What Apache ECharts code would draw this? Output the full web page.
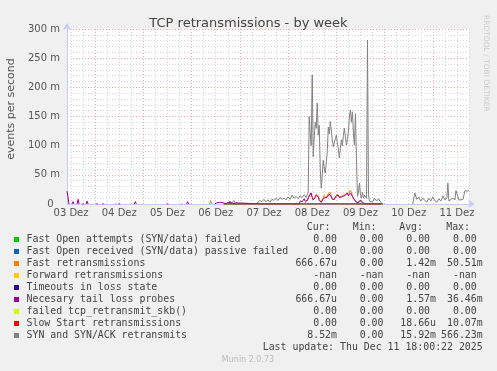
<!DOCTYPE html>
<html>
<head>
<meta charset="utf-8">
<script src="https://cdn.jsdelivr.net/npm/echarts@6/dist/echarts.min.js"></script>
<style>
html,body{margin:0;padding:0;background:#f0f0f0;}
#chart{width:497px;height:371px;}
</style>
</head>
<body>
<div id="chart"></div>
<script>
// ---- axis labels ----
const dayLabels = ['03 Dez','04 Dez','05 Dez','06 Dez','07 Dez','08 Dez','09 Dez','10 Dez','11 Dez'];
const yAxisTitle = 'events per second';
// hours are counted from 03 Dez 00:00; values in milli-events per second

// SYN and SYN/ACK retransmits
const synHours = [90,91,92,93,94,104,105,106,107,108,109,110,111,112,113,114,115,116,117,118,119,120,121,122,123,124,125,126,127,128,129,129.5,
130,130.5,131,131.5,132,132.5,133,133.5,134,134.5,135,135.5,136,136.5,137,137.5,138,138.5,139,139.5,
140,140.5,141,141.5,142,142.5,143,143.5,144,144.5,145,145.5,146,146.5,147,147.5,148,148.5,149,149.5,
150,150.5,151,151.5,152,152.5,153,153.5,154,154.5,155,155.5,156,156.5,157,157.5,158,158.5,159,159.5,
160,160.5,161,162,163,164,165,166,167,167.5,
182,183,184,185,186,187,188,189,190,191,192,193,194,195,196,197,198,199,199.5,200,201,202,203,203.5,204,205,206,207,208,209,210];
const synValues = [0,5,2,6,0,0,3,6,4,8,4,7,3,8,6,10,6,11,8,10,7,12,8,15,10,13,9,14,11,16,11,13,
20,150,120,100,221,81,115,140,130,173,118,135,60,27,50,75,60,53,50,90,
132,120,141,125,110,98,105,112,118,105,95,79,95,110,100,118,130,115,101,110,
125,150,161,140,158,120,101,155,80,13,20,36,15,10,20,10,15,12,10,281,
15,5,8,3,10,5,9,3,0,null,
0,19,8,12,5,10,6,3,10,5,12,6,3,9,5,14,7,10,36,5,8,10,7,23,20,7,7,8,23,22,23];

// Fast retransmissions
const fastHours = [34,34.5,35,35.2,66.5,67,67.5,67.7,81,81.5,82,82.2,
128,129,130,130.5,131,131.5,132,132.5,133,133.5,134,134.5,135,135.5,136,136.5,137,137.5,138,138.5,139,139.5,
140,140.5,141,141.5,142,142.5,143,143.5,144,144.5,145,145.5,146,146.5,147,147.5,148,148.5,149,149.5,
150,150.5,151,151.5,152,152.5,153,153.5,154,154.5,155,155.5,156,156.5,157,157.5,158];
const fastValues = [0,3,0,null,0,3,0,null,0,6,0,null,
0,4,8,14,18,19,12,7,9,13,17,19,14,8,5,3,7,11,15,14,10,13,
18,21,20,14,9,7,8,12,15,17,16,12,10,13,14,15,12,16,19,18,
15,20,24,22,15,10,7,5,3,3,2,4,7,5,2,1,0];

// Necesary tail loss probes
const tlpHours = [10,10.5,11,11.2,12.5,13,13.5,13.7,15,15.5,16,16.2,17.5,18,18.5,18.7,19.5,20,20.5,20.7,
24.5,25,25.5,25.7,27.5,28,28.5,28.7,35.5,36,36.5,36.7,43.5,44,44.5,44.7,59.5,60,60.5,60.7,69.5,70,70.5,70.7,
83.5,84,84.5,85,86,86.5,88,88.5,89,90,90.5,92,92.5,93,94,94.5,107,107.5,108,113.5,114,114.5,
125.5,126,126.5,127,127.5,128,128.5,129,129.5,130,130.5,131,131.5,132,132.5,133,133.5,134,134.5,135,135.5,136,136.5,137,137.5,138,138.5,139,139.5,
140,140.5,141,141.5,142,142.5,143,143.5,144,144.5,145,145.5,146,146.5,147,147.5,148,148.5,149,149.5,
150,150.5,151,151.5,152,152.5,153,153.5,154,154.5,155,155.5,156,156.5,157,157.5,158,165,165.5,166];
const tlpValues = [22,12,0,null,0,4,0,null,0,8,0,null,0,3,0,null,0,5,0,null,
0,2,0,null,0,3,0,null,0,3,0,null,0,4,0,null,0,3,0,null,0,4,0,null,
0,3,2,0,3,0,2,4,0,3,0,2,3,0,2,0,0,2,0,0,2,0,
0,5,8,4,7,9,5,8,6,10,14,17,19,11,7,8,11,15,17,12,6,4,3,6,9,10,11,9,12,
15,17,16,12,8,7,8,11,14,17,15,11,9,12,14,13,11,15,18,19,
14,17,19,17,13,10,7,5,3,3,2,5,7,6,3,1,0,0,2,0];

// Slow Start retransmissions and the other zero-valued series
const zeroHours = [88,167];
const slowStartValues = [0,0];
const fastOpenFailedValues = [0,0];
const fastOpenPassiveValues = [0,0];
const timeoutsValues = [0,0];
const failedSkbValues = [0,0];

// ---- legend table ----
const legendLabels = ['Fast Open attempts (SYN/data) failed','Fast Open received (SYN/data) passive failed','Fast retransmissions','Forward retransmissions','Timeouts in loss state','Necesary tail loss probes','failed tcp_retransmit_skb()','Slow Start retransmissions','SYN and SYN/ACK retransmits'];
const legendColors = ['#00cc00','#0066b3','#ff8000','#ffcc00','#330099','#990099','#ccff00','#ff0000','#808080'];
const curValues = ['0.00','0.00','666.67u','-nan','0.00','666.67u','0.00','0.00','8.52m'];
const minValues = ['0.00','0.00','0.00','-nan','0.00','0.00','0.00','0.00','0.00'];
const avgValues = ['0.00','0.00','1.42m','-nan','0.00','1.57m','0.00','18.66u','15.92m'];
const maxValues = ['0.00','0.00','50.51m','-nan','0.00','36.46m','0.00','10.07m','566.23m'];
const lastUpdate = 'Last update: Thu Dec 11 18:00:22 2025';

const pairs = (hs, vs) => hs.map((h, i) => [h, vs[i] === null ? '-' : vs[i]]);

const MONO = '"DejaVu Sans Mono", monospace';
const SANS = '"DejaVu Sans", sans-serif';
const CW = 5.96; // mono char width
const textColor = '#444';

const graphics = [];
const rowY0 = 239.7, rowStep = 12;
const addText = (text, x, y, align, font, fill) => graphics.push({
  type: 'text', silent: true,
  style: {text, x, y, font, fill, textAlign: align, align, textVerticalAlign: 'middle', verticalAlign: 'middle'}
});
['Cur:','Min:','Avg:','Max:'].forEach((t, i) => addText(t, [330.5, 376.5, 423, 470][i], 227.5, 'right', '9.9px ' + MONO, textColor));
const unitEdge = (v, edge) => /[0-9n]$/.test(v) ? edge - CW : edge;
legendLabels.forEach((lab, i) => {
  const y = rowY0 + i * rowStep;
  graphics.push({type: 'rect', silent: true, shape: {x: 14, y: Math.round(y) - 3, width: 5, height: 5}, style: {fill: legendColors[i]}});
  addText(lab, 26.5, y, 'left', '9.9px ' + MONO, textColor);
  addText(curValues[i], 337, y, 'right', '9.9px ' + MONO, textColor);
  addText(minValues[i], 383.5, y, 'right', '9.9px ' + MONO, textColor);
  addText(avgValues[i], unitEdge(avgValues[i], 436), y, 'right', '9.9px ' + MONO, textColor);
  addText(maxValues[i], unitEdge(maxValues[i], 482.7), y, 'right', '9.9px ' + MONO, textColor);
});
addText(lastUpdate, 482.7, 347, 'right', '9.9px ' + MONO, textColor);
addText('Munin 2.0.73', 248, 360, 'center', '8px ' + SANS, '#bbbbbb');
graphics.push({type: 'text', silent: true, x: 486, y: 15, rotation: -Math.PI / 2,
  style: {text: 'RRDTOOL / TOBI OETIKER', x: 0, y: 0, font: '7.5px ' + SANS, fill: '#cccccc', textAlign: 'left', align: 'left', textVerticalAlign: 'middle', verticalAlign: 'middle'}});
graphics.push({type: 'text', silent: true, x: 11.5, y: 109, rotation: Math.PI / 2,
  style: {text: yAxisTitle, x: 0, y: 0, font: '11px ' + SANS, fill: '#555', textAlign: 'center', align: 'center', textVerticalAlign: 'middle', verticalAlign: 'middle'}});

const G = '#d6d6d6', R = '#eeaaaa', T = 'rgba(0,0,0,0)';

const lineSeries = (name, hs, vs, color, z) => ({
  name, type: 'line', data: pairs(hs, vs), showSymbol: false, symbol: 'none',
  connectNulls: false, lineStyle: {width: 1, color}, itemStyle: {color}, z, animation: false, silent: true
});

const option = {
  backgroundColor: '#f0f0f0',
  animation: false,
  title: {text: 'TCP retransmissions - by week', left: 'center', top: 12,
    textStyle: {fontFamily: SANS, fontSize: 13, fontWeight: 'normal', color: '#444'}},
  grid: {left: 67, right: 28, top: 29, bottom: 167, show: true, backgroundColor: '#ffffff', borderWidth: 0,
    containLabel: false, outerBoundsMode: 'none'},
  xAxis: {
    type: 'value', min: 10, max: 210, interval: 2,
    axisLine: {show: true, lineStyle: {color: '#c8c8ff', width: 1}, symbol: ['none', 'arrow'], symbolSize: [6, 7], symbolOffset: [0, 6]},
    axisTick: {show: false},
    axisLabel: {
      margin: 4, color: '#555', fontSize: 10, fontFamily: SANS, showMinLabel: true, showMaxLabel: true,
      formatter: v => ((v - 12) % 24 === 0 ? (dayLabels[(v - 12) / 24] || '') : '')
    },
    splitLine: {show: true, lineStyle: {color: [T, G, T, T, G, T, T, R, T, T, G, T], type: [1, 2], width: 1}}
  },
  yAxis: {
    type: 'value', min: 0, max: 300, interval: 50,
    axisLine: {show: true, lineStyle: {color: '#c8c8ff', width: 1}, symbol: ['none', 'arrow'], symbolSize: [6, 7], symbolOffset: [0, 6]},
    axisTick: {show: false},
    axisLabel: {margin: 7, color: '#555', fontSize: 10, fontFamily: SANS, formatter: v => (v === 0 ? '0  ' : v + ' m')},
    splitLine: {show: true, lineStyle: {color: R, type: [1, 2], width: 1}},
    minorTick: {show: false, splitNumber: 5},
    minorSplitLine: {show: true, lineStyle: {color: G, type: [1, 2], width: 1}}
  },
  graphic: graphics,
  series: [
    lineSeries('Fast Open attempts (SYN/data) failed', zeroHours, fastOpenFailedValues, '#00cc00', 2),
    lineSeries('Fast Open received (SYN/data) passive failed', zeroHours, fastOpenPassiveValues, '#0066b3', 2),
    lineSeries('Timeouts in loss state', zeroHours, timeoutsValues, '#330099', 2),
    lineSeries('failed tcp_retransmit_skb()', zeroHours, failedSkbValues, '#ccff00', 2),
    lineSeries('SYN and SYN/ACK retransmits', synHours, synValues, '#808080', 3),
    lineSeries('Fast retransmissions', fastHours, fastValues, '#ff8000', 4),
    lineSeries('Necesary tail loss probes', tlpHours, tlpValues, '#990099', 5),
    lineSeries('Slow Start retransmissions', zeroHours, slowStartValues, '#ff0000', 6)
  ]
};

const chart = echarts.init(document.getElementById('chart'), null, {renderer: 'canvas'});
chart.setOption(option);
</script>
</body>
</html>
